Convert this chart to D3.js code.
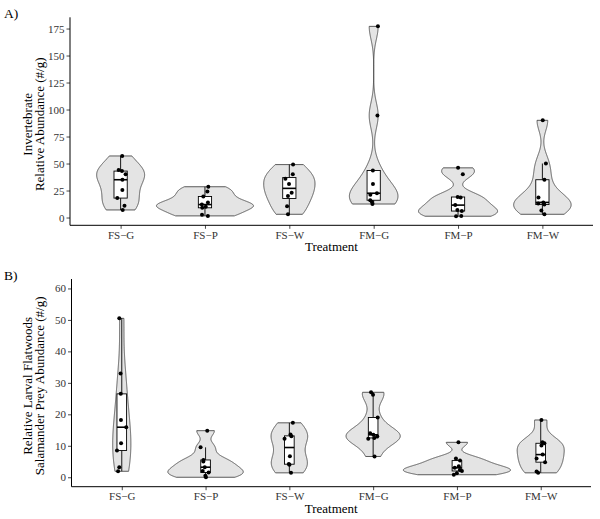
<!DOCTYPE html>
<html>
<head>
<meta charset="utf-8">
<script src="https://cdn.jsdelivr.net/npm/d3@7"></script>
<style>
  html, body { margin: 0; padding: 0; background: #fff; }
  svg text { font-family: "Liberation Serif", "Times New Roman", serif; }
</style>
</head>
<body>
<svg id="chart" width="600" height="519"></svg>
<script>
// ---------------- data ----------------
const categories = ["FS\u2212G", "FS\u2212P", "FS\u2212W", "FM\u2212G", "FM\u2212P", "FM\u2212W"];

// Panel A: Invertebrate relative abundance (#/g)
const invFSG = [57, 44, 43, 40, 35, 25.5, 18, 11, 7];
const invFSP = [28.5, 24, 19.5, 14, 12, 10, 9, 2.5, 1.5];
const invFSW = [49, 40, 36, 31, 23, 20, 10.5, 3];
const invFMG = [177, 94.5, 43.5, 31, 22.5, 21, 16, 14.5, 12.5];
const invFMP = [46, 40, 19, 18.5, 11.5, 7, 6, 1.5, 1.2];
const invFMW = [90, 50, 35, 18.5, 14, 13, 12, 6.5, 3];

// Panel B: relative larval flatwoods salamander prey abundance (#/g)
const preyFSG = [50.5, 33, 26.5, 18.2, 15.9, 10.8, 8.5, 3.2, 1.9];
const preyFSP = [14.8, 9.5, 5.5, 5, 3.2, 2, 1.5, 0.5, 0];
const preyFSW = [17.3, 13.6, 13, 12.2, 6.7, 4.2, 4, 1.4];
const preyFMG = [27, 26.2, 19, 14, 13.5, 13, 12.5, 12.2, 6.6];
const preyFMP = [11.1, 6, 5.3, 3.5, 3, 2.3, 2, 1.3, 0.8];
const preyFMW = [18.2, 11.1, 10.8, 10.1, 7.2, 6, 4.8, 1.8, 1.4];

const ticksA = [0, 25, 50, 75, 100, 125, 150, 175];
const ticksB = [0, 10, 20, 30, 40, 50, 60];

const groupsA = [invFSG, invFSP, invFSW, invFMG, invFMP, invFMW];
const groupsB = [preyFSG, preyFSP, preyFSW, preyFMG, preyFMP, preyFMW];

// ---------------- helpers ----------------
function bwNrd0(v) {
  const s = d3.deviation(v);
  const sorted = v.slice().sort(d3.ascending);
  const iqr = d3.quantile(sorted, 0.75) - d3.quantile(sorted, 0.25);
  let lo = Math.min(s, iqr / 1.34);
  if (!(lo > 0)) lo = s || Math.abs(v[0]) || 1;
  return 0.9 * lo * Math.pow(v.length, -0.2);
}
function kde(v) {
  const bw = bwNrd0(v);
  const [mn, mx] = d3.extent(v);
  const n = 512, out = [];
  for (let i = 0; i < n; i++) {
    const x = mn + (mx - mn) * i / (n - 1);
    let s = 0;
    for (const xi of v) { const z = (x - xi) / bw; s += Math.exp(-0.5 * z * z); }
    out.push({ v: x, d: s / (v.length * bw * Math.sqrt(2 * Math.PI)) });
  }
  return out;
}
// deterministic jitter (seeded LCG)
let seed = 12345;
function rnd() { seed = (seed * 1103515245 + 12345) % 2147483648; return seed / 2147483648; }

const svg = d3.select("#chart");

function drawPanel(opts) {
  const { groups, top, bottom, left, right, domain, ticks, label, titleLines,
          violinWidth, boxWidth } = opts;
  const g = svg.append("g");
  const x = d3.scalePoint().domain(categories).range([left, right]).padding(0.6);
  const y = d3.scaleLinear().domain(domain).range([bottom, top]);
  const step = x.step();

  // violins (scale = "area")
  const dens = groups.map(kde);
  const maxD = d3.max(dens, ds => d3.max(ds, p => p.d));
  groups.forEach((vals, i) => {
    const cx = x(categories[i]);
    const hw = p => p.d / maxD * violinWidth * step / 2;
    const area = d3.area()
      .y(p => y(p.v))
      .x0(p => cx - hw(p))
      .x1(p => cx + hw(p));
    g.append("path")
      .attr("d", area(dens[i]))
      .attr("fill", "#e4e4e4")
      .attr("stroke", "#333333")
      .attr("stroke-width", 0.8);
  });

  // boxplots
  groups.forEach((vals, i) => {
    const cx = x(categories[i]);
    const s = vals.slice().sort(d3.ascending);
    const q1 = d3.quantile(s, 0.25), med = d3.quantile(s, 0.5), q3 = d3.quantile(s, 0.75);
    const iqr = q3 - q1;
    const lo = d3.min(s.filter(v => v >= q1 - 1.5 * iqr));
    const hi = d3.max(s.filter(v => v <= q3 + 1.5 * iqr));
    const bw = boxWidth * step;
    g.append("line").attr("x1", cx).attr("x2", cx).attr("y1", y(q3)).attr("y2", y(hi))
      .attr("stroke", "#000").attr("stroke-width", 0.9);
    g.append("line").attr("x1", cx).attr("x2", cx).attr("y1", y(q1)).attr("y2", y(lo))
      .attr("stroke", "#000").attr("stroke-width", 0.9);
    g.append("rect").attr("x", cx - bw / 2).attr("width", bw)
      .attr("y", y(q3)).attr("height", y(q1) - y(q3))
      .attr("fill", "#fff").attr("stroke", "#000").attr("stroke-width", 0.9);
    g.append("line").attr("x1", cx - bw / 2).attr("x2", cx + bw / 2)
      .attr("y1", y(med)).attr("y2", y(med))
      .attr("stroke", "#000").attr("stroke-width", 1.6);
  });

  // jittered points
  groups.forEach((vals, i) => {
    const cx = x(categories[i]);
    vals.forEach(v => {
      g.append("circle")
        .attr("cx", cx + (rnd() - 0.5) * 0.12 * step)
        .attr("cy", y(v))
        .attr("r", 2)
        .attr("fill", "#000");
    });
  });

  // axes
  const yAxis = d3.axisLeft(y).tickValues(ticks).tickSize(3.5).tickPadding(2);
  const xAxis = d3.axisBottom(x).tickSize(3.5).tickPadding(2.5);
  const ya = g.append("g").attr("transform", `translate(${left},0)`).call(yAxis);
  const xa = g.append("g").attr("transform", `translate(0,${bottom})`).call(xAxis);
  [ya, xa].forEach(a => {
    a.select(".domain").remove();
    a.selectAll(".tick line").attr("stroke", "#333").attr("stroke-width", 0.9);
    a.selectAll(".tick text").attr("fill", "#333").style("font-size", "11px")
      .style("font-family", '"Liberation Serif", serif');
  });
  g.append("line").attr("x1", left).attr("x2", left).attr("y1", top).attr("y2", bottom)
    .attr("stroke", "#000").attr("stroke-width", 1);
  g.append("line").attr("x1", left).attr("x2", right).attr("y1", bottom).attr("y2", bottom)
    .attr("stroke", "#000").attr("stroke-width", 1);

  // titles
  g.append("text").attr("x", (left + right) / 2).attr("y", bottom + 26)
    .attr("text-anchor", "middle").style("font-size", "13px").attr("fill", "#000")
    .text("Treatment");
  const cy = (top + bottom) / 2 + 3;
  titleLines.forEach((t, k) => {
    g.append("text")
      .attr("transform", `translate(${31.5 + k * 12.5},${cy}) rotate(-90)`)
      .attr("text-anchor", "middle").style("font-size", "13px").attr("fill", "#000")
      .text(t);
  });
  g.append("text").attr("x", 4).attr("y", top + 0.5)
    .style("font-size", "13.5px").attr("fill", "#000").text(label);
}

drawPanel({
  groups: groupsA, top: 17.3, bottom: 225.3, left: 70, right: 593,
  domain: [-7.2, 185.4], ticks: ticksA, label: "A)",
  titleLines: ["Invertebrate", "Relative Abundance (#/g)"],
  violinWidth: 1.15, boxWidth: 0.157
});
drawPanel({
  groups: groupsB, top: 279, bottom: 486.7, left: 71.5, right: 591,
  domain: [-3, 63], ticks: ticksB, label: "B)",
  titleLines: ["Relative Larval Flatwoods", "Salamander Prey Abundance (#/g)"],
  violinWidth: 1.28, boxWidth: 0.115
});
</script>
</body>
</html>
